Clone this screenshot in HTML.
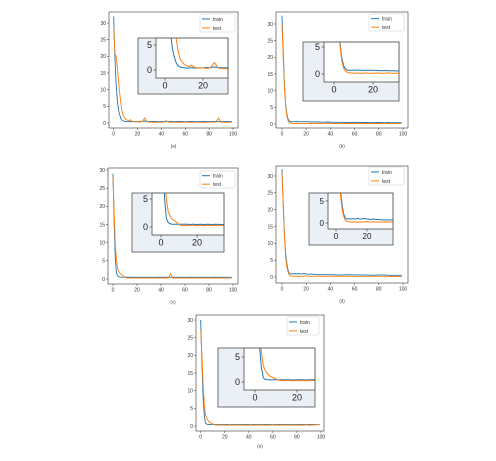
<!DOCTYPE html>
<html><head><meta charset="utf-8">
<style>
html,body{margin:0;padding:0;background:#fff;}
svg{display:block;font-family:"Liberation Sans","DejaVu Sans",sans-serif;}
</style></head>
<body>
<svg id="fig" width="496" height="461" viewBox="0 0 496 461"></svg>
<script>
const epochs=[0,1,2,3,4,5,6,7,8,9,10,11,12,13,14,15,16,18,20,22,24,26,28,30,34,38,42,44,46,48,50,55,60,65,70,75,80,85,88,90,95,99];
const aTrain=[32,20,12,7,4,2.5,1.3,0.8,0.6,0.5,0.45,0.4,0.4,0.4,0.45,0.4,0.4,0.45,0.4,0.5,0.5,0.6,0.5,0.45,0.45,0.4,0.45,0.5,0.4,0.45,0.4,0.45,0.4,0.45,0.4,0.45,0.4,0.45,0.5,0.4,0.45,0.4];
const aTest=[29,21,20,17,13,9,6,3.5,2.2,1.6,1.2,0.9,0.8,0.7,1.0,0.6,0.5,0.4,0.4,0.3,0.5,1.5,0.4,0.3,0.2,0.2,0.25,0.7,0.2,0.2,0.2,0.2,0.25,0.2,0.2,0.2,0.2,0.25,1.5,0.2,0.2,0.2];
const bTrain=[32.5,22,12,6,3,1.5,0.9,0.7,0.7,0.7,0.7,0.7,0.75,0.7,0.7,0.65,0.7,0.7,0.7,0.65,0.6,0.65,0.6,0.6,0.55,0.6,0.5,0.5,0.5,0.5,0.5,0.45,0.5,0.45,0.45,0.4,0.45,0.4,0.45,0.4,0.4,0.4];
const bTest=[30,20,11,5.5,2.5,1,0.5,0.3,0.2,0.2,0.15,0.15,0.2,0.15,0.15,0.15,0.2,0.15,0.15,0.2,0.15,0.15,0.2,0.15,0.15,0.2,0.15,0.15,0.15,0.2,0.15,0.15,0.15,0.2,0.15,0.15,0.15,0.2,0.15,0.15,0.15,0.2];
const cTrain=[29,15,5,1.5,0.8,0.6,0.5,0.5,0.5,0.5,0.5,0.5,0.5,0.5,0.5,0.5,0.45,0.5,0.45,0.5,0.45,0.5,0.45,0.5,0.45,0.5,0.45,0.5,0.45,0.5,0.45,0.5,0.45,0.5,0.45,0.5,0.45,0.5,0.45,0.5,0.45,0.45];
const cTest=[28,18,9,5,2.7,2,1.5,1.2,1.0,0.7,0.5,0.3,0.3,0.25,0.3,0.25,0.3,0.3,0.25,0.3,0.25,0.3,0.25,0.3,0.25,0.3,0.25,0.3,0.25,1.5,0.25,0.3,0.25,0.3,0.25,0.3,0.25,0.3,0.25,0.3,0.25,0.3];
const dTrain=[32,22,13,7,4,2,1.1,0.9,0.9,1.0,0.9,1.0,0.9,0.9,1.1,0.9,0.9,1.0,0.9,0.8,0.9,0.8,0.8,0.7,0.7,0.7,0.7,0.6,0.6,0.6,0.6,0.7,0.6,0.6,0.6,0.5,0.6,0.6,0.5,0.5,0.5,0.5];
const dTest=[31,21,12,6,3,1.5,0.6,0.35,0.25,0.25,0.2,0.25,0.2,0.25,0.2,0.25,0.2,0.25,0.3,0.2,0.25,0.2,0.25,0.2,0.25,0.2,0.25,0.2,0.25,0.2,0.25,0.2,0.2,0.2,0.2,0.2,0.2,0.2,0.2,0.15,0.15,0.15];
const eTrain=[30,18,8,3,0.8,0.5,0.45,0.45,0.4,0.45,0.45,0.4,0.45,0.45,0.4,0.45,0.45,0.4,0.45,0.45,0.4,0.45,0.45,0.4,0.45,0.45,0.4,0.45,0.45,0.4,0.45,0.45,0.4,0.45,0.45,0.4,0.45,0.45,0.4,0.45,0.4,0.4];
const eTest=[27,20,12,6,3.2,2.2,1.6,1.2,1.0,0.8,0.6,0.4,0.3,0.3,0.25,0.3,0.3,0.25,0.3,0.25,0.3,0.25,0.3,0.25,0.3,0.25,0.3,0.25,0.3,0.25,0.3,0.25,0.3,0.25,0.3,0.25,0.3,0.25,0.3,0.25,0.3,0.4];
const xTicks=[0,20,40,60,80,100];
const yTicks=[0,5,10,15,20,25,30];
const insetXTicks=[0,20];
const insetYTicks=[0,5];
const seriesNames=["train","test"];
const panelLabels=["(a)","(b)","(c)","(d)","(e)"];

const NS="http://www.w3.org/2000/svg";
const svg=document.getElementById('fig');
const COLORS=["#1f77b4","#ff7f0e"];
function mk(tag,attrs,parent){const e=document.createElementNS(NS,tag);for(const k in attrs)e.setAttribute(k,attrs[k]);(parent||svg).appendChild(e);return e;}

const panels=[
 {id:'a',tr:aTrain,te:aTest,ax:[109,12,238,128],x0:113.7,x100:233,y0:123,y30:23,leg:[200,14,235,32],lab:146,
  ib:[138,38,228,94],ia:[156,38,228,78],ix0:165,ix20:203,iy0:70,iy5:45},
 {id:'b',tr:bTrain,te:bTest,ax:[276,12,408,128],x0:282,x100:403,y0:124,y30:24,leg:[369,14,404,31],lab:146,
  ib:[303,42,399,101],ia:[324,42,399,82],ix0:334,ix20:373,iy0:74,iy5:47},
 {id:'c',tr:cTrain,te:cTest,ax:[108,168,238,284],x0:113,x100:233,y0:279,y30:170,leg:[200,171,235,188],lab:302,
  ib:[132,193,224,252],ia:[152,193,224,235],ix0:161,ix20:197,iy0:227,iy5:199},
 {id:'d',tr:dTrain,te:dTest,ax:[276,166,408,283],x0:282,x100:403,y0:277,y30:176,leg:[369,167,404,185],lab:301,
  ib:[309,193,393,245],ia:[328,193,393,229],ix0:336,ix20:367,iy0:223,iy5:201},
 {id:'e',tr:eTrain,te:eTest,ax:[196,315,324,431],x0:200.7,x100:321,y0:426,y30:320,leg:[287,317,319,335],lab:446,
  ib:[218,348,315,407],ia:[244,348,315,390],ix0:255,ix20:297,iy0:382,iy5:357}
];

panels.forEach((p,pi)=>{
  const g=mk('g',{});
  
  
  const sx=v=>p.x0+(p.x100-p.x0)*v/100;
  const sy=v=>p.y0+(p.y30-p.y0)*v/30;
  const [l,t,r,b]=p.ax;
  // clip
  const cp=mk('clipPath',{id:'clip'+p.id},g);
  mk('rect',{x:l,y:t,width:r-l,height:b-t},cp);
  [p.tr,p.te].forEach((s,si)=>{
    const pts=epochs.map((e,i)=>sx(e).toFixed(2)+','+sy(s[i]).toFixed(2)).join(' ');
    const pl=mk('polyline',{points:pts,fill:'none',stroke:COLORS[si],'stroke-width':0.9,'clip-path':'url(#clip'+p.id+')'},g);
    
    
  });
  const frame=mk('rect',{x:l,y:t,width:r-l,height:b-t,fill:'none',stroke:'#333','stroke-width':0.6},g);
  
  
  xTicks.forEach(v=>{
    const x=sx(v);
    mk('line',{x1:x,x2:x,y1:b,y2:b+2,stroke:'#333','stroke-width':0.5},g);
    const tx=mk('text',{x:x,y:b+7.5,'font-size':5,'text-anchor':'middle',fill:'#333'},g);
    tx.textContent=v;
    
    
  });
  yTicks.forEach(v=>{
    const y=sy(v);
    mk('line',{x1:l-2,x2:l,y1:y,y2:y,stroke:'#333','stroke-width':0.5},g);
    const tx=mk('text',{x:l-3,y:y+1.8,'font-size':5,'text-anchor':'end',fill:'#333'},g);
    tx.textContent=v;
    
    
  });
  // legend
  const [ll,lt,lr,lb]=p.leg;
  const lg=mk('g',{},g);
  
  
  mk('rect',{x:ll,y:lt,width:lr-ll,height:lb-lt,fill:'#fff',stroke:'#ccc','stroke-width':0.5,rx:1},lg);
  const rowH=(lb-lt)/2;
  seriesNames.forEach((n,si)=>{
    const y=lt+rowH*(si+0.55);
    mk('line',{x1:ll+2,x2:ll+10,y1:y,y2:y,stroke:COLORS[si],'stroke-width':1},lg);
    const tx=mk('text',{x:ll+13,y:y+1.8,'font-size':5,fill:'#333'},lg);
    tx.textContent=n;
    
    
  });
  // label
  const lab=mk('text',{x:(l+r)/2,y:p.lab+1.5,'font-size':4.5,'text-anchor':'middle',fill:'#333'},g);
  lab.textContent=panelLabels[pi];
  
  
  // inset
  const ig=mk('g',{},g);
  
  
  const [bl,bt,br,bb]=p.ib;
  mk('rect',{x:bl,y:bt,width:br-bl,height:bb-bt,fill:'#eaf0f6',stroke:'#666','stroke-width':0.7},ig);
  const [al,at,ar,ab]=p.ia;
  mk('rect',{x:al,y:at,width:ar-al,height:ab-at,fill:'#fff'},ig);
  const isx=v=>p.ix0+(p.ix20-p.ix0)*v/20;
  const isy=v=>p.iy0+(p.iy5-p.iy0)*v/5;
  const icp=mk('clipPath',{id:'iclip'+p.id},ig);
  mk('rect',{x:al,y:at,width:ar-al,height:ab-at},icp);
  [p.tr,p.te].forEach((s,si)=>{
    const pts=epochs.map((e,i)=>isx(e).toFixed(2)+','+isy(s[i]).toFixed(2)).join(' ');
    const pl=mk('polyline',{points:pts,fill:'none',stroke:COLORS[si],'stroke-width':1,'clip-path':'url(#iclip'+p.id+')'},ig);
    
    
  });
  mk('rect',{x:al,y:at,width:ar-al,height:ab-at,fill:'none',stroke:'#333','stroke-width':0.7},ig);
  mk('rect',{x:bl,y:bt,width:br-bl,height:bb-bt,fill:'none',stroke:'#666','stroke-width':0.7},ig);
  const fs=(p.ix20-p.ix0)>35?9:8;
  insetXTicks.forEach(v=>{
    const x=isx(v);
    mk('line',{x1:x,x2:x,y1:ab,y2:ab+2.5,stroke:'#333','stroke-width':0.6},ig);
    const tx=mk('text',{x:x,y:ab+3+fs*0.85,'font-size':fs,'text-anchor':'middle',fill:'#222'},ig);
    tx.textContent=v;
    
    
  });
  insetYTicks.forEach(v=>{
    const y=isy(v);
    mk('line',{x1:al-2.5,x2:al,y1:y,y2:y,stroke:'#333','stroke-width':0.6},ig);
    const tx=mk('text',{x:al-4,y:y+fs*0.35,'font-size':fs,'text-anchor':'end',fill:'#222'},ig);
    tx.textContent=v;
    
    
  });
});
</script>
</body></html>
